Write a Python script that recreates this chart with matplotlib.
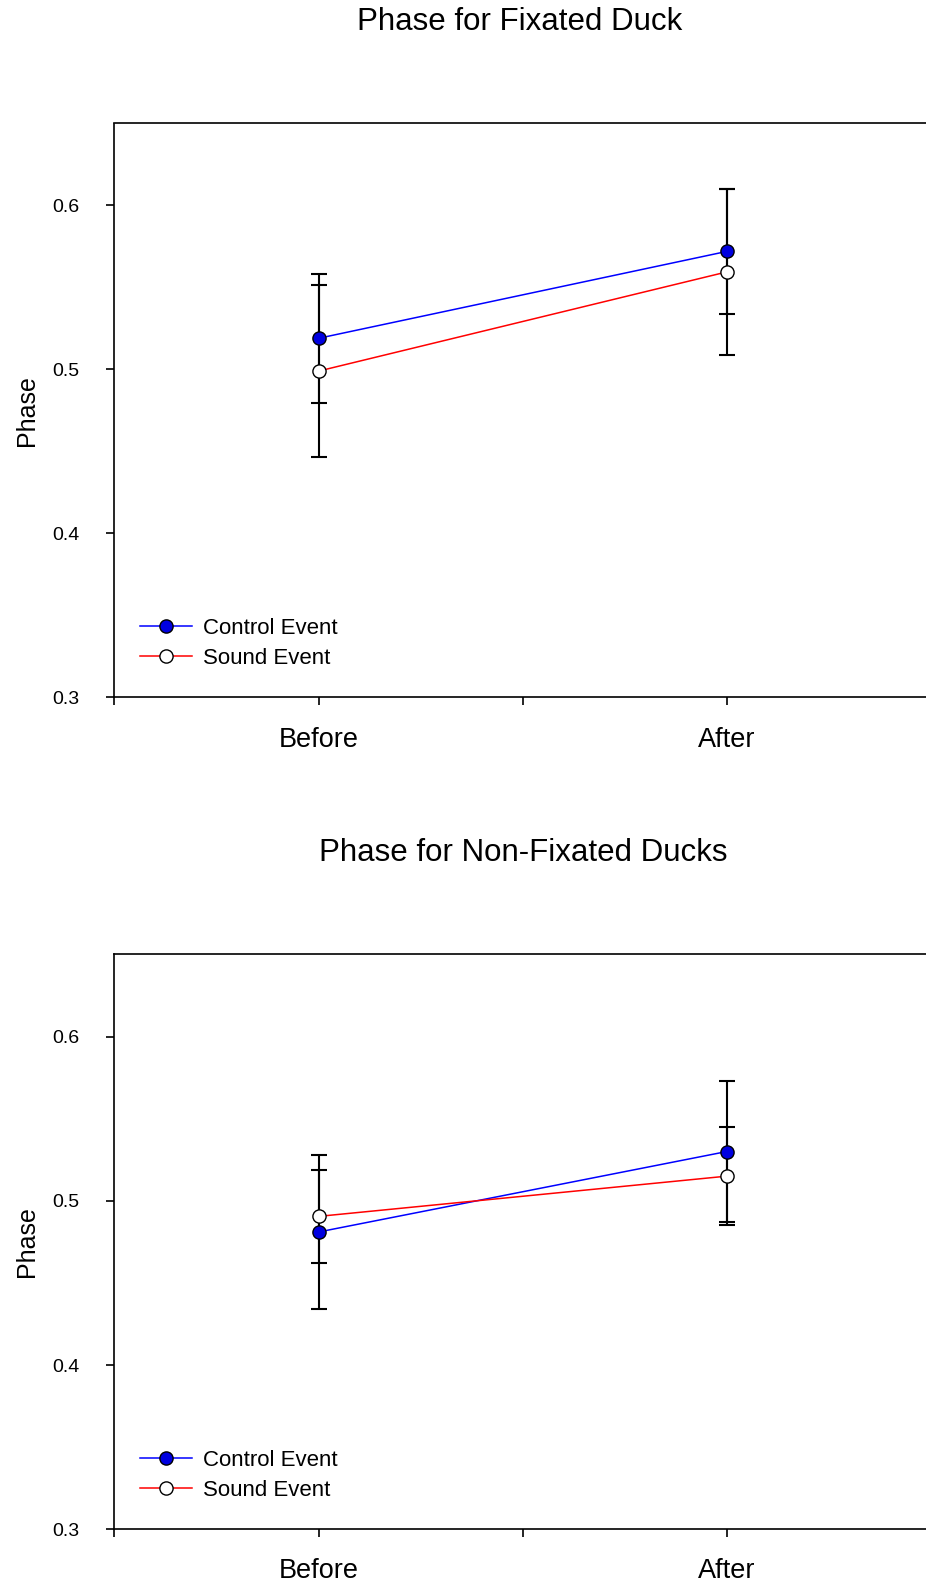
import matplotlib
matplotlib.use("Agg")
import matplotlib.pyplot as plt
from matplotlib.lines import Line2D

plt.rcParams['font.family'] = ['Liberation Sans', 'DejaVu Sans']

categories = ["Before", "After"]
x_pos = [1, 3]

titles = ["Phase for Fixated Duck", "Phase for Non-Fixated Ducks"]

# Top panel: Fixated duck
fix_control = [0.519, 0.572]
fix_control_err = [0.0395, 0.038]
fix_sound = [0.499, 0.5595]
fix_sound_err = [0.0525, 0.0505]

# Bottom panel: Non-fixated ducks
non_control = [0.481, 0.530]
non_control_err = [0.047, 0.043]
non_sound = [0.4905, 0.515]
non_sound_err = [0.0285, 0.030]

yticks = [0.3, 0.4, 0.5, 0.6]

W, H = 926, 1587
fig = plt.figure(figsize=(W / 100, H / 100), dpi=100)

axes_px = [(114.4, 123.5, 931, 697.4), (114.4, 954.4, 931, 1529.3)]
title_px = [(520, 22.5), (523, 853)]

data = [(fix_control, fix_control_err, fix_sound, fix_sound_err),
        (non_control, non_control_err, non_sound, non_sound_err)]

for i, (l, t, r, b) in enumerate(axes_px):
    ax = fig.add_axes([l / W, 1 - b / H, (r - l) / W, (b - t) / H])
    ctrl, ctrl_e, snd, snd_e = data[i]
    ax.errorbar(x_pos, ctrl, yerr=ctrl_e, fmt='none', ecolor='black',
                elinewidth=1.5, capsize=5.8, capthick=1.5, zorder=2)
    ax.errorbar(x_pos, snd, yerr=snd_e, fmt='none', ecolor='black',
                elinewidth=1.5, capsize=5.8, capthick=1.5, zorder=2)
    ax.plot(x_pos, ctrl, color='#0000ff', lw=1.1, zorder=3)
    ax.plot(x_pos, snd, color='#ff0000', lw=1.1, zorder=3)
    ax.plot(x_pos, ctrl, 'o', ms=9.5, mfc='#0000e0', mec='black', mew=1.0, zorder=4)
    ax.plot(x_pos, snd, 'o', ms=9.5, mfc='white', mec='black', mew=1.0, zorder=4)

    ax.set_xlim(0, 4)
    ax.set_ylim(0.3, 0.65)
    ax.set_yticks(yticks)
    ax.set_yticklabels([f"{v:.1f}" for v in yticks])
    ax.set_xticks([0, 1, 2, 3, 4])
    ax.set_xticklabels(["", categories[0], "", categories[1], ""])
    ax.tick_params(axis='y', direction='out', length=6, width=1.2, pad=19, labelsize=14)
    ax.tick_params(axis='x', direction='out', length=6, width=1.2, pad=15, labelsize=19.5)
    for s in ax.spines.values():
        s.set_linewidth(1.2)
    ax.set_ylabel("Phase", fontsize=18, labelpad=10)

    handles = [
        Line2D([0], [0], color='#0000ff', lw=1.1, marker='o', ms=9.5,
               mfc='#0000e0', mec='black'),
        Line2D([0], [0], color='#ff0000', lw=1.1, marker='o', ms=9.5,
               mfc='white', mec='black'),
    ]
    ax.legend(handles, ["Control Event", "Sound Event"], loc='lower left',
              bbox_to_anchor=(0.02, 0.034), frameon=False, fontsize=16,
              handlelength=2.35, handletextpad=0.5, labelspacing=0.4,
              borderaxespad=0)

    tx, ty = title_px[i]
    fig.text(tx / W, 1 - ty / H, titles[i], ha='center', va='center', fontsize=22.5)

fig.savefig("out.png", dpi=100)
